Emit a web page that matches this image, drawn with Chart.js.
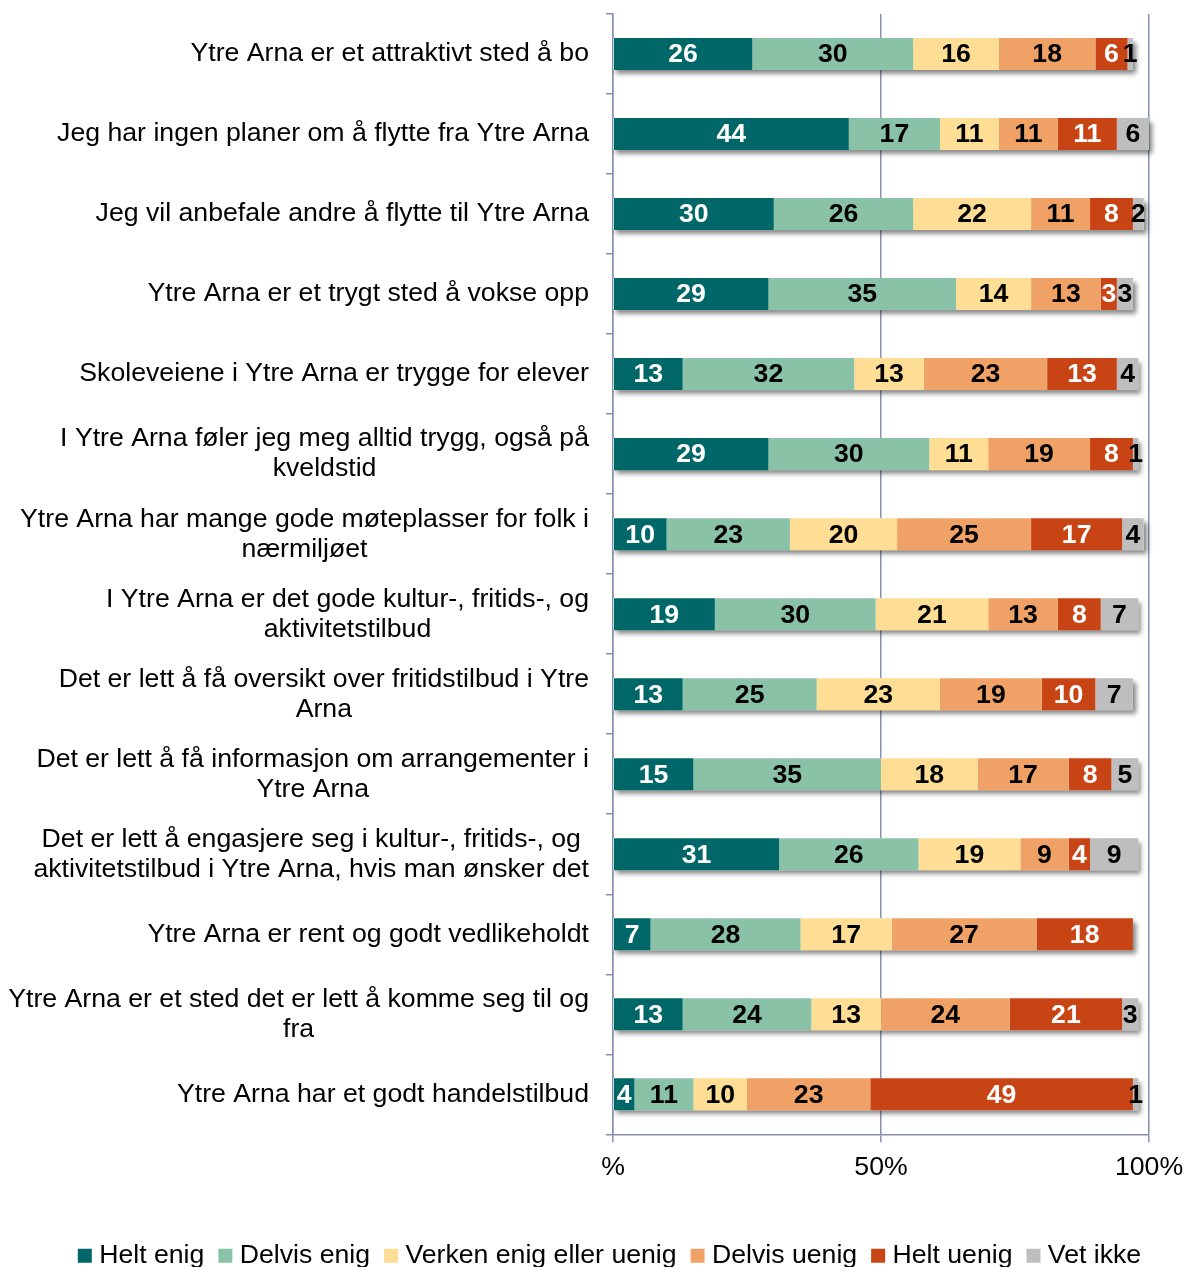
<!DOCTYPE html>
<html lang="no">
<head>
    <meta charset="UTF-8">
    <title>Ytre Arna</title>
    <style>
        body { margin: 0; background: #fff; }
        #wrap { width: 1185px; height: 1267px; }
    </style>
</head>
<body>
    <div id="wrap"><canvas id="chart" width="1185" height="1267"></canvas></div>

    <script src="https://cdn.jsdelivr.net/npm/chart.js"></script>
    <script>
        const categories = [
            'Ytre Arna er et attraktivt sted å bo',
            'Jeg har ingen planer om å flytte fra Ytre Arna',
            'Jeg vil anbefale andre å flytte til Ytre Arna',
            'Ytre Arna er et trygt sted å vokse opp',
            'Skoleveiene i Ytre Arna er trygge for elever',
            ['I Ytre Arna føler jeg meg alltid trygg, også på', 'kveldstid'],
            ['Ytre Arna har mange gode møteplasser for folk i', 'nærmiljøet'],
            ['I Ytre Arna er det gode kultur-, fritids-, og', 'aktivitetstilbud'],
            ['Det er lett å få oversikt over fritidstilbud i Ytre', 'Arna'],
            ['Det er lett å få informasjon om arrangementer i', 'Ytre Arna'],
            ['Det er lett å engasjere seg i kultur-, fritids-, og', 'aktivitetstilbud i Ytre Arna, hvis man ønsker det'],
            'Ytre Arna er rent og godt vedlikeholdt',
            ['Ytre Arna er et sted det er lett å komme seg til og', 'fra'],
            'Ytre Arna har et godt handelstilbud'
        ];

        const heltEnig    = [26, 44, 30, 29, 13, 29, 10, 19, 13, 15, 31, 7, 13, 4];
        const delvisEnig  = [30, 17, 26, 35, 32, 30, 23, 30, 25, 35, 26, 28, 24, 11];
        const verken      = [16, 11, 22, 14, 13, 11, 20, 21, 23, 18, 19, 17, 13, 10];
        const delvisUenig = [18, 11, 11, 13, 23, 19, 25, 13, 19, 17, 9, 27, 24, 23];
        const heltUenig   = [6, 11, 8, 3, 13, 8, 17, 8, 10, 8, 4, 18, 21, 49];
        const vetIkke     = [1, 6, 2, 3, 4, 1, 4, 7, 7, 5, 9, null, 3, 1];

        const seriesNames = ['Helt enig', 'Delvis enig', 'Verken enig eller uenig', 'Delvis uenig', 'Helt uenig', 'Vet ikke'];
        const xTickLabels = ['%', '50%', '100%'];

        const allSeries = [heltEnig, delvisEnig, verken, delvisUenig, heltUenig, vetIkke];
        const colors = ['#006769', '#8AC2A8', '#FDDE94', '#F0A266', '#C84414', '#BEBEBE'];
        const labelColors = ['#fff', '#000', '#000', '#000', '#fff', '#000'];
        const gridColor = '#8791AF';
        const fontSize = 26.67;

        Chart.defaults.font.family = '"Liberation Sans", Arial, sans-serif';
        Chart.defaults.color = '#000';

        // soft shadow under each whole bar
        const barShadow = {
            id: 'barShadow',
            beforeDatasetsDraw(chart) {
                const ctx = chart.ctx;
                const x = chart.scales.x;
                const meta = chart.getDatasetMeta(0);
                ctx.save();
                ctx.shadowColor = 'rgba(0,0,0,0.5)';
                ctx.shadowBlur = 5;
                ctx.shadowOffsetX = 3;
                ctx.shadowOffsetY = 4;
                ctx.fillStyle = '#fff';
                meta.data.forEach((bar, i) => {
                    const total = allSeries.reduce((s, arr) => s + (arr[i] || 0), 0);
                    const left = x.getPixelForValue(0);
                    const right = x.getPixelForValue(total);
                    ctx.fillRect(left, bar.y - bar.height / 2, right - left, bar.height);
                });
                ctx.restore();
            }
        };

        // numbers inside the segments
        const segmentLabels = {
            id: 'segmentLabels',
            afterDatasetsDraw(chart) {
                const ctx = chart.ctx;
                ctx.save();
                ctx.font = 'bold ' + fontSize + 'px "Liberation Sans", Arial, sans-serif';
                ctx.textAlign = 'center';
                ctx.textBaseline = 'middle';
                allSeries.forEach((arr, d) => {
                    const meta = chart.getDatasetMeta(d);
                    ctx.fillStyle = labelColors[d];
                    meta.data.forEach((bar, i) => {
                        if (!arr[i]) return;
                        ctx.fillText(String(arr[i]), (bar.x + bar.base) / 2, bar.y + 1);
                    });
                });
                ctx.restore();
            }
        };

        // category labels: block right aligned, lines centred inside the block
        const categoryLabels = {
            id: 'categoryLabels',
            afterDraw(chart) {
                const ctx = chart.ctx;
                const y = chart.scales.y;
                const lineH = 30;
                ctx.save();
                ctx.font = fontSize + 'px "Liberation Sans", Arial, sans-serif';
                ctx.fillStyle = '#000';
                ctx.textAlign = 'center';
                ctx.textBaseline = 'middle';
                categories.forEach((c, i) => {
                    const lines = Array.isArray(c) ? c : [c];
                    const w = Math.max(...lines.map(l => ctx.measureText(l).width));
                    const cx = y.right - 24 - w / 2;
                    const yc = y.getPixelForTick(i);
                    lines.forEach((l, j) => {
                        ctx.fillText(l, cx, yc + (j - (lines.length - 1) / 2) * lineH);
                    });
                });
                ctx.restore();
            }
        };

        // legend sits a little right of centre in the original
        const legendShift = {
            id: 'legendShift',
            afterLayout(chart) {
                chart.legend.left += 20;
                chart.legend.right += 20;
            }
        };

        new Chart(document.getElementById('chart'), {
            type: 'bar',
            data: {
                labels: categories,
                datasets: allSeries.map((arr, d) => ({
                    label: seriesNames[d],
                    data: arr,
                    backgroundColor: colors[d],
                    borderWidth: 0,
                    barPercentage: 0.4,
                    categoryPercentage: 1.0
                }))
            },
            options: {
                indexAxis: 'y',
                responsive: false,
                animation: false,
                layout: { padding: { top: 14, right: 0, bottom: -12, left: 0 } },
                scales: {
                    x: {
                        stacked: true,
                        min: 0,
                        max: 100,
                        ticks: {
                            stepSize: 50,
                            padding: 9,
                            font: { size: fontSize },
                            color: '#000',
                            callback: (v, i) => xTickLabels[i]
                        },
                        grid: { color: gridColor, lineWidth: 1.5, tickLength: 8 },
                        border: { color: gridColor, width: 1.5 },
                        afterFit: s => { s.height = 88; s.paddingRight = 36; }
                    },
                    y: {
                        stacked: true,
                        ticks: { color: 'rgba(0,0,0,0)', font: { size: 14 } },
                        grid: { drawOnChartArea: false, color: gridColor, lineWidth: 1.5, tickLength: 7, offset: true },
                        border: { color: gridColor, width: 1.5 },
                        afterFit: s => { s.width = 613; s.paddingTop = 0; s.paddingBottom = 0; }
                    }
                },
                plugins: {
                    legend: {
                        position: 'bottom',
                        labels: {
                            font: { size: fontSize },
                            color: '#000',
                            usePointStyle: true,
                            pointStyle: 'rect',
                            boxWidth: 2,
                            boxHeight: 14,
                            padding: 20
                        }
                    },
                    tooltip: { enabled: false }
                }
            },
            plugins: [barShadow, segmentLabels, categoryLabels, legendShift]
        });
    </script>
</body>
</html>
